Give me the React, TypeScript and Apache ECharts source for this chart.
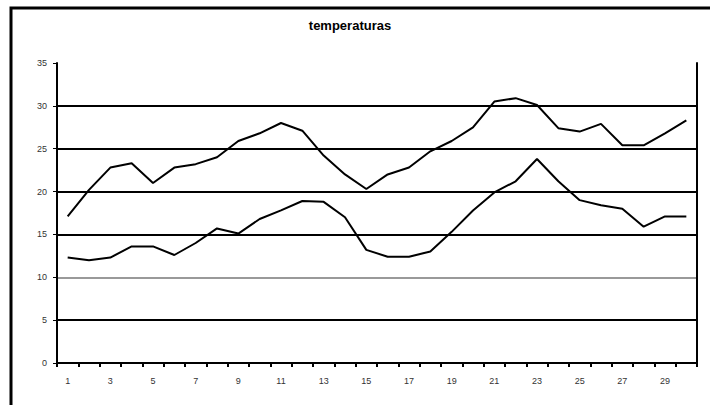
import React, { useEffect, useRef } from "react";
import * as echarts from "echarts";

const title = "temperaturas";
const days: string[] = Array.from({ length: 30 }, (_, i) => String(i + 1));
const maxTemps: number[] = [
  17.1, 20.2, 22.8, 23.3, 21.0, 22.8, 23.2, 24.0, 25.9, 26.8,
  28.0, 27.1, 24.2, 22.0, 20.3, 22.0, 22.8, 24.7, 25.9, 27.5,
  30.5, 30.9, 30.1, 27.4, 27.0, 27.9, 25.4, 25.4, 26.8, 28.3,
];
const minTemps: number[] = [
  12.3, 12.0, 12.3, 13.6, 13.6, 12.6, 14.0, 15.7, 15.1, 16.8,
  17.8, 18.9, 18.8, 17.0, 13.2, 12.4, 12.4, 13.0, 15.3, 17.8,
  19.9, 21.2, 23.8, 21.2, 19.0, 18.4, 18.0, 15.9, 17.1, 17.1,
];
const yMin = 0;
const yMax = 35;
const yStep = 5;

export default function App() {
  const ref = useRef<HTMLDivElement>(null);
  useEffect(() => {
    if (!ref.current) return;
    const chart = echarts.init(ref.current, undefined, { renderer: "svg" });
    const font = "Liberation Sans, Arial, sans-serif";
    chart.setOption({
      animation: false,
      backgroundColor: "#fff",
      title: {
        text: title,
        left: 345,
        textAlign: "center",
        top: 14,
        textStyle: { fontSize: 13, fontWeight: "bold", color: "#000", fontFamily: font },
      },
      graphic: [
        {
          type: "rect",
          shape: { x: 11, y: 8, width: 730, height: 430 },
          style: { fill: "none", stroke: "#000", lineWidth: 3 },
          silent: true,
        },
      ],
      grid: { left: 57, right: 13, top: 63, bottom: 42 },
      xAxis: {
        type: "category",
        data: days,
        boundaryGap: true,
        axisLine: { lineStyle: { color: "#000", width: 2 } },
        axisTick: { show: true, interval: 0, length: 4, lineStyle: { color: "#000", width: 2 } },
        axisLabel: { interval: 1, color: "#333", fontSize: 9, margin: 13, fontFamily: font },
        splitLine: { show: false },
      },
      yAxis: [
        {
          type: "value",
          min: yMin,
          max: yMax,
          interval: yStep,
          axisLine: { show: true, lineStyle: { color: "#000", width: 2 } },
          axisTick: { show: true, length: 4, lineStyle: { color: "#000", width: 1 } },
          axisLabel: { color: "#333", fontSize: 9, margin: 10, fontFamily: font },
          splitLine: {
            show: true,
            showMaxLine: false,
            lineStyle: {
              color: ["#000", "#000", "#999", "#000", "#000", "#000", "#000", "#000"],
              width: 2,
            },
          },
        },
        {
          type: "value",
          min: yMin,
          max: yMax,
          interval: yStep,
          position: "right",
          axisLine: { show: true, lineStyle: { color: "#000", width: 2 } },
          axisTick: { show: false },
          axisLabel: { show: false },
          splitLine: { show: false },
        },
      ],
      series: [
        {
          type: "line",
          name: "max",
          data: maxTemps,
          showSymbol: false,
          lineStyle: { color: "#000", width: 2 },
          itemStyle: { color: "#000" },
        },
        {
          type: "line",
          name: "min",
          data: minTemps,
          showSymbol: false,
          lineStyle: { color: "#000", width: 2 },
          itemStyle: { color: "#000" },
        },
      ],
    });
    return () => chart.dispose();
  }, []);
  return <div ref={ref} style={{ width: 710, height: 405, position: "fixed", left: 0, top: 0 }} />;
}
